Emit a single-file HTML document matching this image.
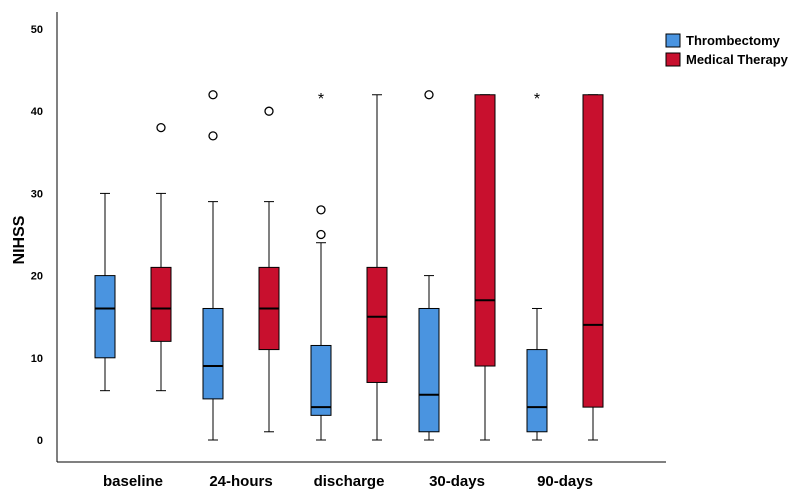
<!DOCTYPE html>
<html><head><meta charset="utf-8"><style>
body{margin:0;background:#fff;}
svg{display:block;font-family:"Liberation Sans",Arial,sans-serif;}
</style></head><body>
<svg id="chart" width="800" height="493">
<g id="axes"></g><g id="plot"></g>
<g>
<rect x="666" y="34" width="14" height="13" fill="#4a94e0" stroke="#000"/>
<text x="686" y="45" font-size="13" font-weight="bold">Thrombectomy</text>
<rect x="666" y="53" width="14" height="13" fill="#c8102e" stroke="#000"/>
<text x="686" y="64" font-size="13" font-weight="bold">Medical Therapy</text>
</g>
</svg>
<script>
const categories=["baseline","24-hours","discharge","30-days","90-days"];
const yTicks=[0,10,20,30,40,50];
// [low whisker, q1, median, q3, high whisker]
const thrombectomy=[[6,10,16,20,30],[0,5,9,16,29],[0,3,4,11.5,24],[0,1,5.5,16,20],[0,1,4,11,16]];
const medical=[[6,12,16,21,30],[1,11,16,21,29],[0,7,15,21,42],[0,9,17,42,42],[0,4,14,42,42]];
const thrombOutliers=[[],[37,42],[25,28],[42],[]];
const thrombExtremes=[[],[],[42],[],[42]];
const medicalOutliers=[[38],[40],[],[],[]];
const medicalExtremes=[[],[],[],[],[]];
const colors={t:"#4a94e0",m:"#c8102e"};
const NS="http://www.w3.org/2000/svg";
const y=v=>440-v*8.22;
const xc=i=>133+i*108;
function mk(tag,attrs,parent,text){const e=document.createElementNS(NS,tag);for(const k in attrs)e.setAttribute(k,attrs[k]);if(text!=null)e.textContent=text;parent.appendChild(e);return e;}
const axes=document.getElementById('axes'),plot=document.getElementById('plot');
let e=mk('line',{x1:57,y1:12,x2:57,y2:462,stroke:"#000"},axes);


e=mk('line',{x1:57,y1:462,x2:666,y2:462,stroke:"#000"},axes);


yTicks.forEach(t=>{
 let l=mk('text',{x:43,y:y(t)+4,"font-size":11,"font-weight":"bold","text-anchor":"end"},axes,String(t));
 
 
});
e=mk('text',{x:24,y:240,"font-size":16,"font-weight":"bold","text-anchor":"middle",transform:"rotate(-90 24 240)"},axes,"NIHSS");


categories.forEach((c,i)=>{
 let l=mk('text',{x:xc(i),y:486,"font-size":15,"font-weight":"bold","text-anchor":"middle"},axes,c);
 
 
});
function box(cx,d,col,name,outs,exts){
 const g=mk('g',{},plot);
 
 
 mk('line',{x1:cx,y1:y(d[0]),x2:cx,y2:y(d[4]),stroke:"#000"},g);
 mk('line',{x1:cx-5,y1:y(d[0]),x2:cx+5,y2:y(d[0]),stroke:"#000"},g);
 mk('line',{x1:cx-5,y1:y(d[4]),x2:cx+5,y2:y(d[4]),stroke:"#000"},g);
 mk('rect',{x:cx-10,y:y(d[3]),width:20,height:y(d[1])-y(d[3]),fill:col,stroke:"#000"},g);
 mk('line',{x1:cx-10,y1:y(d[2]),x2:cx+10,y2:y(d[2]),stroke:"#000","stroke-width":2},g);
 outs.forEach(o=>mk('circle',{cx:cx,cy:y(o),r:4,fill:"#fff",stroke:"#000","stroke-width":1.3},g));
 exts.forEach(o=>mk('text',{x:cx,y:y(o)+9,"font-size":16,"text-anchor":"middle"},g,"*"));
}
categories.forEach((c,i)=>{
 box(xc(i)-28,thrombectomy[i],colors.t,'box-thrombectomy-'+c,thrombOutliers[i],thrombExtremes[i]);
 box(xc(i)+28,medical[i],colors.m,'box-medical-'+c,medicalOutliers[i],medicalExtremes[i]);
});
</script>
</body></html>
